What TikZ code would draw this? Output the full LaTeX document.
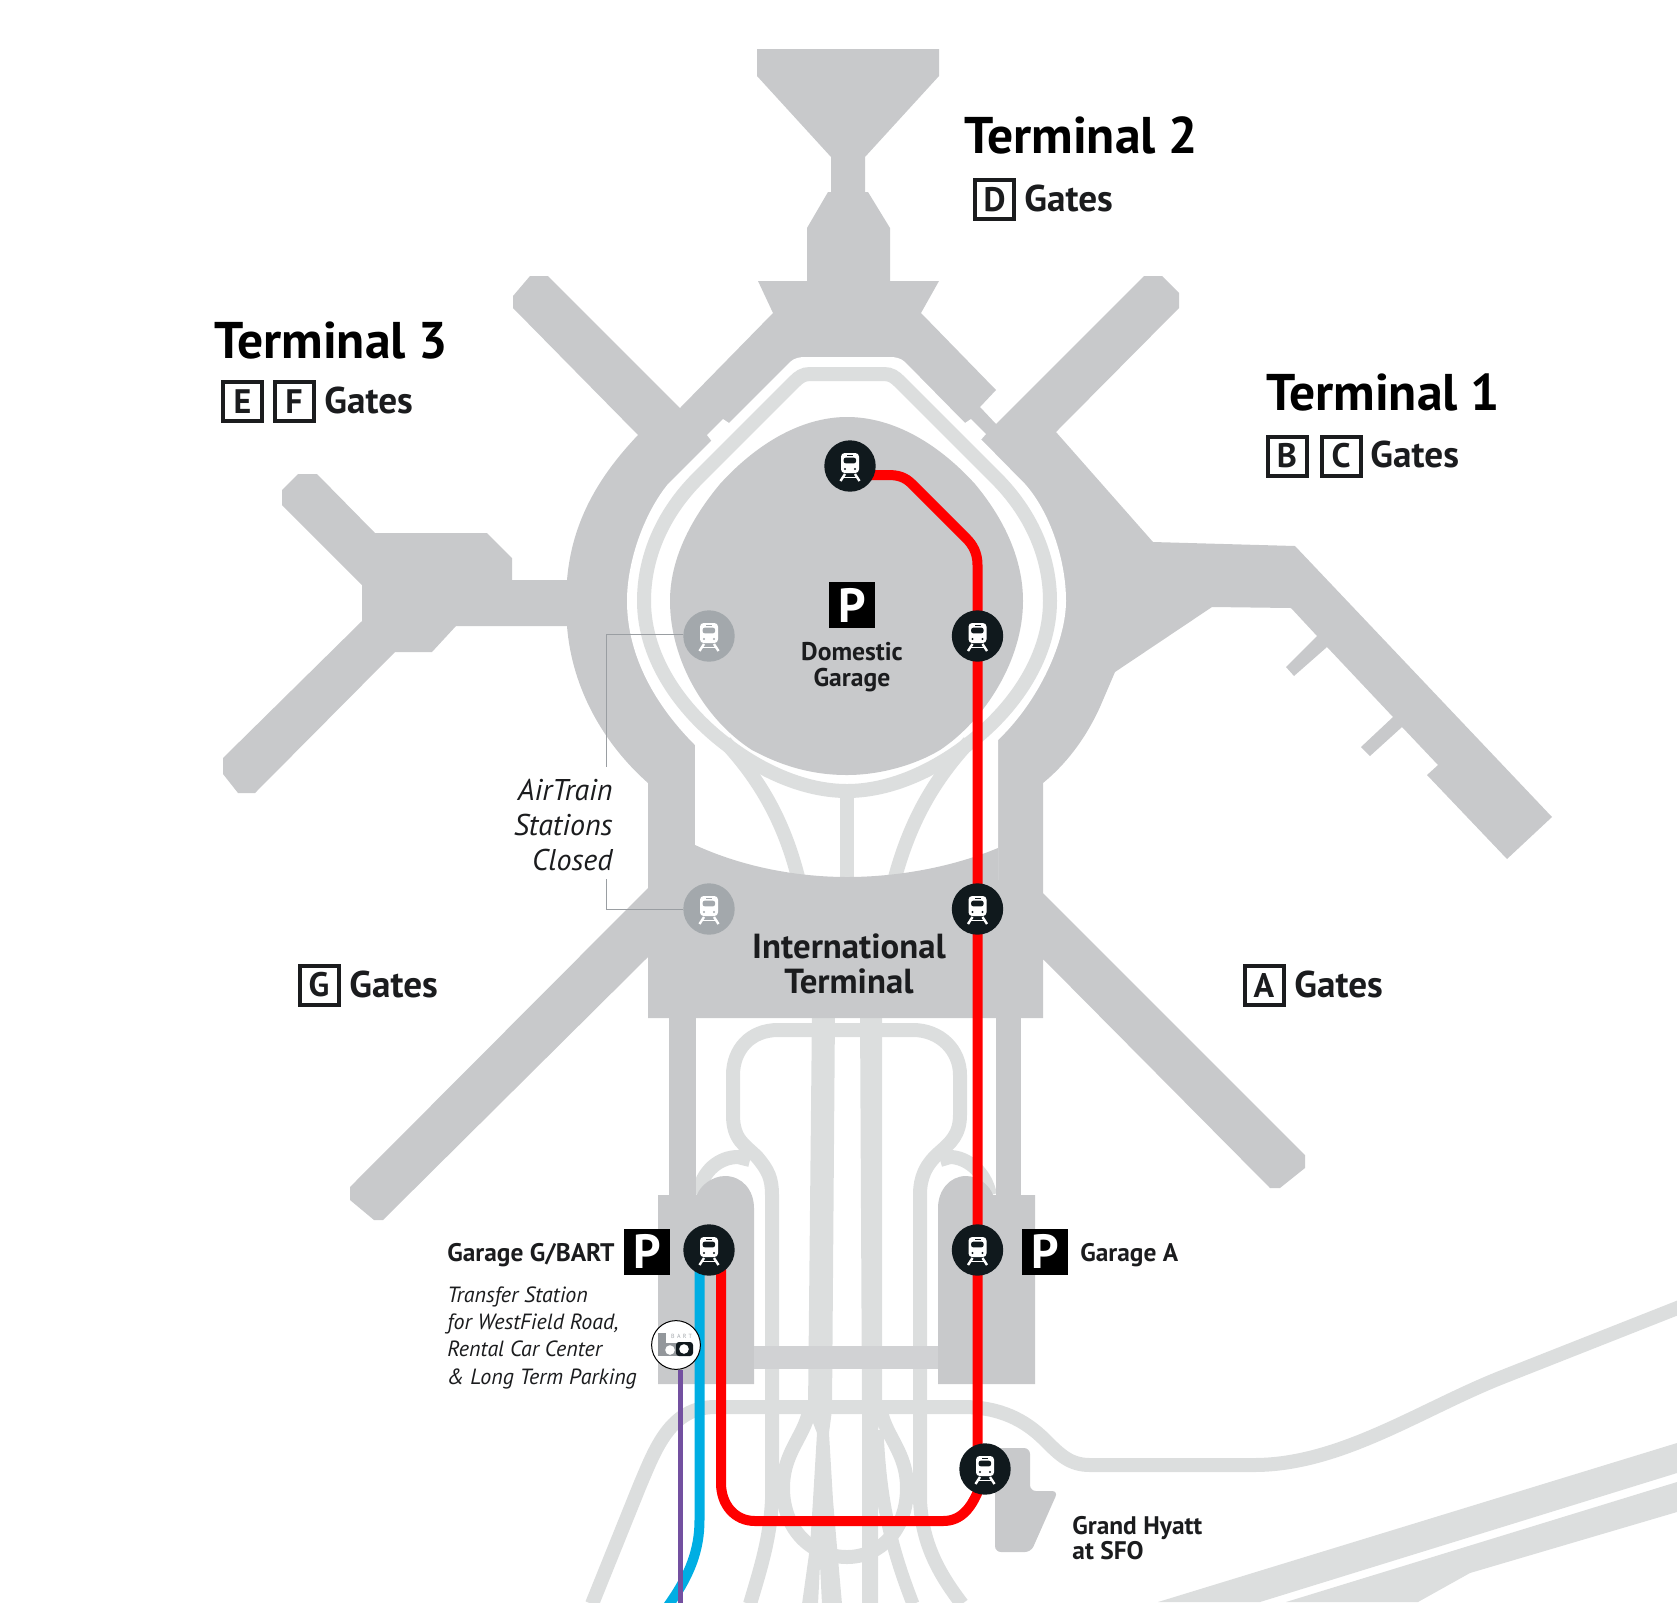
\documentclass[tikz,border=0pt]{standalone}
\usepackage{fontspec}
\setmainfont{PT Sans}
\usepackage{tikz}

\definecolor{hallgray}{HTML}{C8C9CB}
\definecolor{bargray}{HTML}{D1D2D4}
\definecolor{roadgray}{HTML}{DCDEDE}
\definecolor{stopblack}{HTML}{10191D}
\definecolor{closedgray}{HTML}{A3A8AC}
\definecolor{leadgray}{HTML}{9A9EA2}
\definecolor{inkblack}{HTML}{1B1C1E}
\definecolor{bartblue}{HTML}{00AEE3}
\definecolor{bartpurple}{HTML}{7350A0}

\pgfdeclarelayer{stops}
\pgfsetlayers{main,stops}

\tikzset{
    hall/.style={fill=hallgray},
    road/.style={draw=roadgray, line width=7pt},
    train/.style={draw=red, line width=5pt},
    stopdot/.style={circle, fill=stopblack, inner sep=0, minimum size=25.7pt},
    closeddot/.style={circle, fill=closedgray, inner sep=0, minimum size=25.7pt},
    heading/.style={anchor=base west, inner sep=0, font=\fontsize{25.8}{30}\selectfont\bfseries, text=black},
    gates/.style={anchor=base west, inner sep=0, font=\fontsize{18.6}{20}\selectfont\bfseries, text=inkblack},
    letterbox/.style={draw=inkblack, line width=2pt, inner sep=0, minimum size=19.5pt,
        font=\fontsize{17}{20}\selectfont\bfseries, text=inkblack},
    parkbox/.style={fill=black, text=white, inner sep=0, minimum size=23pt,
        font=\fontsize{24}{28}\selectfont\bfseries},
    place/.style={anchor=base west, inner sep=0, font=\fontsize{12.7}{12.7}\selectfont\bfseries, text=inkblack},
    remark/.style={inner sep=0, font=\fontsize{15}{17.5}\selectfont\itshape, text=inkblack},
    trainicon/.pic={
        \fill[white, rounded corners=1.8pt] (-9, -13) rectangle (9, 7);
        \fill[#1, rounded corners=1pt] (-6.3, -8.3) rectangle (6, -2.7);
        \fill[#1] (-3, -11) rectangle (3, -10);
        \fill[#1] (-5, 3) circle (0.6pt) (5, 3) circle (0.6pt);
        \draw[white, line width=1.2pt] (-5, 8) -- (-9.5, 15) (5, 8) -- (9.5, 15);
        \draw[white, line width=0.8pt] (-7, 11.5) -- (7, 11.5);
    }
}

\begin{document}
\begin{tikzpicture}[x=0.5pt, y=-0.5pt]
    \useasboundingbox (0, 0) rectangle (1677, 1602);
    \clip (0, 0) rectangle (1677, 1602);

    \begin{pgfonlayer}{stops}
        \foreach \name/\px/\py in {stopTop/850/466, stopDom/977.5/636, stopIntl/977.5/909,
            stopGarG/709/1250, stopGarA/977.5/1250, stopHyatt/985/1469} {
            \node[stopdot] (\name) at (\px, \py) {};
            \pic at (\name) {trainicon=stopblack};
        }
        \foreach \name/\py in {shutDom/636, shutIntl/909} {
            \node[closeddot] (\name) at (709, \py) {};
            \pic at (\name) {trainicon=closedgray};
        }
    \end{pgfonlayer}

    \fill[roadgray] (1158, 1602) -- (1677, 1443) -- (1677, 1473) -- (1260, 1602) -- cycle;
    \fill[roadgray] (1286, 1602) -- (1677, 1482) -- (1677, 1512) -- (1470, 1573) -- (1418, 1602) -- cycle;
    \draw[road] (592, 1604) -- (640, 1485) .. controls (655, 1450) and (670, 1407) .. (715, 1407)
        -- (963, 1407) .. controls (1000, 1407) and (1025, 1420) .. (1045, 1440)
        .. controls (1060, 1455) and (1070, 1465) .. (1090, 1465) -- (1254, 1465)
        .. controls (1340, 1465) and (1420, 1410) .. (1500, 1378) -- (1690, 1303);
    \draw[road] (750, 1604) .. controls (760, 1570) and (770, 1540) .. (772, 1500) -- (772, 1195)
        .. controls (772, 1178) and (768, 1170) .. (757, 1157)
        .. controls (745, 1145) and (733, 1140) .. (733, 1115) -- (733, 1075)
        .. controls (733, 1050) and (750, 1030) .. (778, 1030) -- (913, 1030)
        .. controls (940, 1030) and (960, 1050) .. (960, 1075) -- (960, 1115)
        .. controls (960, 1135) and (950, 1143) .. (940, 1152)
        .. controls (925, 1165) and (920, 1178) .. (920, 1195) -- (920, 1500)
        .. controls (922, 1545) and (940, 1575) .. (962, 1604);
    \draw[road] (698, 1195) .. controls (702, 1170) and (720, 1157) .. (738, 1157) -- (750, 1160);
    \draw[road] (990, 1195) .. controls (985, 1170) and (965, 1157) .. (950, 1157) -- (940, 1160);
    \fill[roadgray] (812, 1010) -- (835, 1010) -- (832, 1410) -- (829, 1433) -- (833, 1500) -- (837, 1547)
        -- (842, 1604) -- (822, 1604) -- (820, 1565) -- (818, 1604) -- (802, 1604) -- (810, 1547)
        -- (813, 1500) -- (817, 1433) -- (808, 1410) -- cycle;
    \fill[roadgray] (860, 1010) -- (882, 1010) -- (882, 1410) -- (878, 1430) -- (878, 1604)
        -- (862, 1604) -- (862, 1410) -- cycle;
    \draw[road] (810, 1405) .. controls (807, 1435) and (783, 1450) .. (783, 1488)
        .. controls (783, 1530) and (812, 1557) .. (847, 1557)
        .. controls (880, 1557) and (907, 1530) .. (907, 1488)
        .. controls (907, 1450) and (883, 1435) .. (880, 1405);
    \draw[road, line width=6.5pt] (877, 1430) .. controls (880, 1500) and (890, 1545) .. (913, 1604);

    \fill[hall] (757, 49) -- (939, 49) -- (939, 76) -- (865, 157) -- (865, 192) -- (868, 192)
        -- (890, 228) -- (890, 281) -- (939, 281) -- (921, 313) -- (996, 390) -- (980, 407)
        -- (996, 424) -- (1144, 276) -- (1162, 276) -- (1179, 293) -- (1179, 308) -- (1056, 432)
        -- (1153, 542) -- (1295, 546) -- (1552, 817) -- (1507, 859) -- (1427, 775) -- (1438, 765)
        -- (1402, 727) -- (1370, 756) -- (1361, 747) -- (1393, 717) -- (1327, 647) -- (1294, 676)
        -- (1286, 667) -- (1317, 636) -- (1291, 608) -- (1212, 607) -- (1115, 672) -- (1100, 707)
        .. controls (1085, 740) and (1065, 765) .. (1043, 783) -- (1043, 893) -- (1305, 1155)
        -- (1305, 1168) -- (1280, 1188) -- (1270, 1188) -- (1043, 959) -- (1043, 1018)
        -- (648, 1018) -- (648, 957) -- (383, 1220) -- (374, 1220) -- (350, 1200) -- (350, 1187)
        -- (648, 888) -- (648, 783) .. controls (605, 745) and (572, 690) .. (567, 626)
        -- (456, 626) -- (432, 652) -- (395, 652) -- (255, 793) -- (238, 793) -- (223, 774)
        -- (223, 758) -- (362, 621) -- (362, 585) -- (282, 505) -- (282, 490) -- (298, 474)
        -- (317, 474) -- (375, 533) -- (487, 533) -- (512, 558) -- (512, 580) -- (567, 580)
        .. controls (572, 520) and (600, 475) .. (638, 435) -- (513, 308) -- (513, 296) -- (530, 276)
        -- (548, 276) -- (680, 408) -- (773, 313) -- (758, 281) -- (807, 281) -- (807, 228)
        -- (828, 192) -- (831, 192) -- (831, 157) -- (757, 76) -- cycle;
    \fill[white] (790, 362) .. controls (794, 358) and (800, 357) .. (805, 357) -- (890, 357)
        .. controls (895, 357) and (901, 358) .. (905, 362) -- (1025, 484)
        .. controls (1050, 512) and (1066, 560) .. (1066, 601)
        .. controls (1066, 640) and (1040, 700) .. (998, 740) -- (998, 880) -- (695, 880)
        -- (695, 745) .. controls (650, 700) and (627, 650) .. (627, 601)
        .. controls (627, 560) and (645, 512) .. (668, 484) -- cycle;
    \fill[white] (707, 435) -- (723, 419) -- (732, 425) -- (714, 444) -- cycle;
    \fill[white] (962, 425) -- (971, 419) -- (986, 434) -- (979, 442) -- cycle;
    \draw[road] (810, 374) -- (884, 374) .. controls (891, 374) and (895, 377) .. (900, 382)
        -- (996, 478) .. controls (1030, 512) and (1050, 555) .. (1050, 601)
        .. controls (1050, 660) and (1010, 715) .. (960, 750)
        .. controls (925, 775) and (885, 791) .. (847, 791)
        .. controls (809, 791) and (769, 775) .. (734, 750)
        .. controls (684, 715) and (644, 660) .. (644, 601)
        .. controls (644, 555) and (664, 512) .. (698, 478) -- (794, 382)
        .. controls (799, 377) and (803, 374) .. (810, 374) -- cycle;
    \draw[road] (847, 791) -- (847, 885);
    \draw[road] (725, 742) .. controls (765, 785) and (787, 830) .. (800, 885);
    \draw[road] (969, 742) .. controls (929, 785) and (907, 830) .. (893, 885);
    \fill[hall] (847, 417) .. controls (890, 417) and (935, 440) .. (975, 484)
        .. controls (1005, 520) and (1023, 560) .. (1023, 601)
        .. controls (1023, 660) and (985, 720) .. (940, 750)
        .. controls (915, 765) and (880, 775) .. (847, 775)
        .. controls (810, 775) and (780, 765) .. (752, 750)
        .. controls (705, 720) and (670, 660) .. (670, 601)
        .. controls (670, 560) and (690, 520) .. (720, 484)
        .. controls (760, 440) and (805, 417) .. (847, 417) -- cycle;
    \fill[hall] (695, 845) .. controls (745, 868) and (800, 877) .. (847, 877)
        .. controls (895, 877) and (950, 868) .. (998, 848) -- (998, 900) -- (695, 900) -- cycle;
    \fill[hall] (669, 1016) rectangle (696, 1196);
    \fill[hall] (996, 1016) rectangle (1021, 1196);
    \fill[hall] (658, 1195) -- (697, 1195) .. controls (700, 1186) and (712, 1176) .. (725, 1176)
        .. controls (742, 1176) and (754, 1190) .. (754, 1208) -- (754, 1384) -- (658, 1384) -- cycle;
    \fill[hall] (1035, 1195) -- (993, 1195) .. controls (990, 1186) and (979, 1176) .. (966, 1176)
        .. controls (950, 1176) and (938, 1190) .. (938, 1208) -- (938, 1384) -- (1035, 1384) -- cycle;
    \fill[bargray] (754, 1346) rectangle (938, 1369);
    \fill[hall, rounded corners=3pt] (1000, 1448) -- (1030, 1448) -- (1030, 1491) -- (1058, 1491)
        -- (1031, 1552) -- (995, 1552) -- (995, 1448) -- cycle;

    \draw[train] ([yshift=-4.5pt]stopTop.center) -- (888, 475) .. controls (898, 475) and (905, 477) .. (912, 484)
        -- (966, 538) .. controls (973, 545) and (977.5, 553) .. (977.5, 565) -- (stopDom.center)
        -- (stopIntl.center) -- (stopGarA.center) -- (stopGarA.center |- stopHyatt.center);
    \draw[train] ([xshift=6pt]stopGarG.center) -- (721, 1483) .. controls (721, 1505) and (735, 1521) .. (755, 1521)
        -- (943, 1521) .. controls (960, 1521) and (975, 1510) .. (stopHyatt.center);
    \draw[draw=bartblue, line width=5pt] ([xshift=-4.75pt]stopGarG.center) -- (699.5, 1520)
        .. controls (699.5, 1550) and (690, 1575) .. (668, 1606);
    \node[circle, draw=black, fill=white, line width=0.5pt, inner sep=0, minimum size=24.4pt] (bartStop) at (676, 1345) {};
    \coordinate (bartEnd) at (680, 1604);
    \draw[draw=bartpurple, line width=2.5pt] (bartStop.south -| bartEnd) -- (bartEnd);
    \fill[closedgray!90!black] (658, 1333) rectangle (666, 1344);
    \fill[closedgray!90!black] (658, 1343) rectangle (680, 1356);
    \fill[stopblack, rounded corners=1.5pt] (676, 1342) rectangle (693, 1356);
    \fill[white] (670, 1350) circle (2.4pt) (684, 1349) circle (2.4pt);
    \node[inner sep=0, text=closedgray, font=\fontsize{3}{4}\selectfont\addfontfeature{LetterSpace=40}] (bartText) at (681.5, 1336) {BART};

    \node[remark, align=right, anchor=north east] (shutLabel) at (613, 779) {AirTrain\\Stations\\Closed};
    \coordinate (shutTop) at (606, 767);
    \coordinate (shutLow) at (606, 879);
    \draw[leadgray, line width=0.5pt] (shutDom.west |- 0, 634) -| (shutTop);
    \draw[leadgray, line width=0.5pt] (shutIntl.west) -| (shutLow);

    \node[parkbox] (parkDom) at (852, 605) {P};
    \node[parkbox] (parkG) at (647, 1251.5) {P};
    \node[parkbox] (parkA) at (1045, 1251.5) {P};

    \node[heading] (termTwo) at (964, 153) {Terminal 2};
    \node[heading] (termThree) at (214, 358) {Terminal 3};
    \node[heading] (termOne) at (1266, 410) {Terminal 1};

    \foreach \name/\px/\py in {D/994.5/199.5, E/242.5/401.5, F/294/401.5, B/1287/456, C/1341/456, G/319/985, A/1264/985} {
        \node[letterbox] (gate\name) at (\px, \py) {\name};
    }
    \node[gates] (gatesD) at (1024, 211) {Gates};
    \node[gates] (gatesEF) at (324, 413) {Gates};
    \node[gates] (gatesBC) at (1370, 467.5) {Gates};
    \node[gates] (gatesG) at (349, 997) {Gates};
    \node[gates] (gatesA) at (1294, 997) {Gates};

    \node[inner sep=0, align=center, text=inkblack, font=\fontsize{12.8}{12.8}\selectfont\bfseries] (domLabel) at (852, 667) {Domestic\\Garage};
    \node[inner sep=0, align=center, text=inkblack, font=\fontsize{17.4}{17.7}\selectfont\bfseries] (intlLabel) at (849, 964) {International\\Terminal};
    \node[place] (garGLabel) at (447, 1261) {Garage G/BART};
    \node[place] (garALabel) at (1080, 1261) {Garage A};
    \node[inner sep=0, align=left, anchor=north west, text=inkblack, font=\fontsize{12.7}{12.7}\selectfont\bfseries] (hyattLabel) at (1072, 1516) {Grand Hyatt\\at SFO};
    \node[inner sep=0, align=left, anchor=north west, text=inkblack, font=\fontsize{11}{13.7}\selectfont\itshape] (transferLabel) at (447, 1286) {Transfer Station\\for WestField Road,\\Rental Car Center\\\& Long Term Parking};
\end{tikzpicture}
\end{document}
